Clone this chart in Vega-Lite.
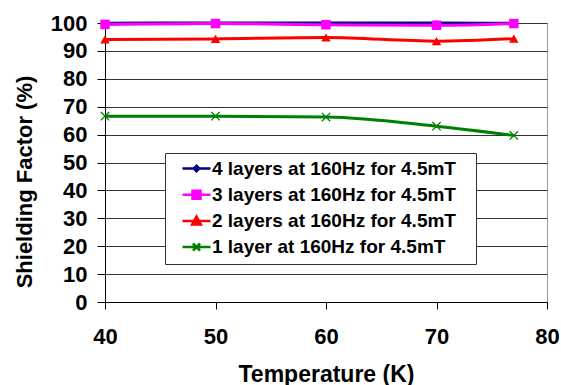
{
  "$schema": "https://vega.github.io/schema/vega-lite/v6.json",
  "width": 442,
  "height": 279,
  "autosize": {"type": "none"},
  "padding": {"left": 105, "top": 23, "right": 14, "bottom": 83},
  "background": "white",
  "config": {
    "font": "Liberation Sans",
    "view": {"stroke": "#999999", "strokeWidth": 1},
    "axis": {
      "labelFont": "Liberation Sans", "labelFontWeight": "bold", "labelFontSize": 22, "labelColor": "black",
      "titleFont": "Liberation Sans", "titleFontWeight": "bold", "titleColor": "black",
      "domainColor": "black", "domainWidth": 1, "tickColor": "black", "tickWidth": 1
    },
    "legend": {
      "labelFont": "Liberation Sans", "labelFontWeight": "bold", "labelFontSize": 19, "labelColor": "black", "labelLimit": 500
    }
  },
  "data": {
    "values": [
      {"series": "4 layers at 160Hz for 4.5mT", "T": 40, "SF": 99.9},
      {"series": "4 layers at 160Hz for 4.5mT", "T": 50, "SF": 100},
      {"series": "4 layers at 160Hz for 4.5mT", "T": 60, "SF": 100},
      {"series": "4 layers at 160Hz for 4.5mT", "T": 70, "SF": 100},
      {"series": "4 layers at 160Hz for 4.5mT", "T": 77, "SF": 99.9},
      {"series": "3 layers at 160Hz for 4.5mT", "T": 40, "SF": 99.5},
      {"series": "3 layers at 160Hz for 4.5mT", "T": 50, "SF": 99.8},
      {"series": "3 layers at 160Hz for 4.5mT", "T": 60, "SF": 99.4},
      {"series": "3 layers at 160Hz for 4.5mT", "T": 70, "SF": 99.2},
      {"series": "3 layers at 160Hz for 4.5mT", "T": 77, "SF": 99.8},
      {"series": "2 layers at 160Hz for 4.5mT", "T": 40, "SF": 94.1},
      {"series": "2 layers at 160Hz for 4.5mT", "T": 50, "SF": 94.3},
      {"series": "2 layers at 160Hz for 4.5mT", "T": 60, "SF": 94.8},
      {"series": "2 layers at 160Hz for 4.5mT", "T": 70, "SF": 93.5},
      {"series": "2 layers at 160Hz for 4.5mT", "T": 77, "SF": 94.4},
      {"series": "1 layer at 160Hz for 4.5mT", "T": 40, "SF": 66.6},
      {"series": "1 layer at 160Hz for 4.5mT", "T": 50, "SF": 66.6},
      {"series": "1 layer at 160Hz for 4.5mT", "T": 60, "SF": 66.3},
      {"series": "1 layer at 160Hz for 4.5mT", "T": 70, "SF": 63.0},
      {"series": "1 layer at 160Hz for 4.5mT", "T": 77, "SF": 59.7}
    ]
  },
  "encoding": {
    "x": {"field": "T", "type": "quantitative", "title": "Temperature (K)",
      "scale": {"domain": [40, 80], "nice": false, "zero": false},
      "axis": {"values": [40, 50, 60, 70, 80], "tickSize": 7, "labelPadding": 17, "labelFlush": false,
        "titleFontSize": 23, "titleBaseline": "alphabetic", "titleY": 79, "grid": false}},
    "y": {"field": "SF", "type": "quantitative", "title": "Shielding Factor (%)",
      "scale": {"domain": [0, 100], "nice": false},
      "axis": {"values": [0, 10, 20, 30, 40, 50, 60, 70, 80, 90, 100], "tickSize": 8, "labelPadding": 10,
        "titleFontSize": 22, "titleBaseline": "alphabetic", "titleAngle": -90, "titleAlign": "center", "titleX": -74, "titleY": 158.5,
        "grid": true, "gridColor": "#333333", "gridWidth": 1}}
  },
  "layer": [
    {
      "mark": {"type": "line", "strokeWidth": 3, "interpolate": "monotone"},
      "encoding": {
        "color": {"field": "series", "type": "nominal", "legend": null,
          "scale": {"range": ["#008000", "#FF0000", "#FF00FF", "#000080"]}}
      }
    },
    {
      "transform": [{"filter": "datum.series == '4 layers at 160Hz for 4.5mT'"}],
      "mark": {"type": "point", "shape": "diamond", "filled": true, "size": 30, "opacity": 1, "color": "#000080"}
    },
    {
      "transform": [{"filter": "datum.series == '3 layers at 160Hz for 4.5mT'"}],
      "mark": {"type": "point", "shape": "square", "filled": true, "size": 90, "opacity": 1, "color": "#FF00FF"}
    },
    {
      "transform": [{"filter": "datum.series == '2 layers at 160Hz for 4.5mT'"}],
      "mark": {"type": "point", "shape": "triangle-up", "filled": true, "size": 90, "opacity": 1, "color": "#FF0000"}
    },
    {
      "transform": [{"filter": "datum.series == '1 layer at 160Hz for 4.5mT'"}],
      "mark": {"type": "point", "shape": "M-1,-1L1,1M-1,1L1,-1", "filled": false, "size": 70, "strokeWidth": 1.3, "opacity": 1, "color": "#008000"}
    },
    {
      "transform": [{"filter": "false"}],
      "mark": {"type": "point", "filled": true, "opacity": 1, "strokeWidth": 2.5},
      "encoding": {
        "fill": {"field": "series", "type": "nominal", "title": null,
          "scale": {"domain": ["4 layers at 160Hz for 4.5mT", "3 layers at 160Hz for 4.5mT", "2 layers at 160Hz for 4.5mT", "1 layer at 160Hz for 4.5mT"],
            "range": ["#000080", "#FF00FF", "#FF0000", "#008000"]},
          "legend": {"orient": "none", "legendX": 60, "legendY": 130}},
        "stroke": {"field": "series", "type": "nominal", "title": null,
          "scale": {"domain": ["4 layers at 160Hz for 4.5mT", "3 layers at 160Hz for 4.5mT", "2 layers at 160Hz for 4.5mT", "1 layer at 160Hz for 4.5mT"],
            "range": ["#000080", "#FF00FF", "#FF0000", "#008000"]},
          "legend": {"orient": "none", "legendX": 60, "legendY": 130}},
        "shape": {"field": "series", "type": "nominal", "title": null,
          "scale": {"domain": ["4 layers at 160Hz for 4.5mT", "3 layers at 160Hz for 4.5mT", "2 layers at 160Hz for 4.5mT", "1 layer at 160Hz for 4.5mT"],
            "range": [
              "M-3.5,0H3.5M0,-0.7L0.7,0L0,0.7L-0.7,0Z",
              "M-3.5,0H3.5M-1,-1H1V1H-1Z",
              "M-3.5,0H3.5M0,-1.1L1.1,0.9H-1.1Z",
              "M-3.5,0H3.5M-0.9,-0.9L0.9,0.9M-0.9,0.9L0.9,-0.9"
            ]},
          "legend": {
            "orient": "none", "legendX": 60, "legendY": 130,
            "strokeColor": "#333333", "fillColor": "white", "padding": 6,
            "symbolSize": 64, "symbolStrokeWidth": 2.5,
            "symbolOffset": 16, "labelOffset": 6, "rowPadding": 6.2,
            "labelExpr": "datum.label + '\u2800'"
          }
        }
      }
    }
  ]
}
